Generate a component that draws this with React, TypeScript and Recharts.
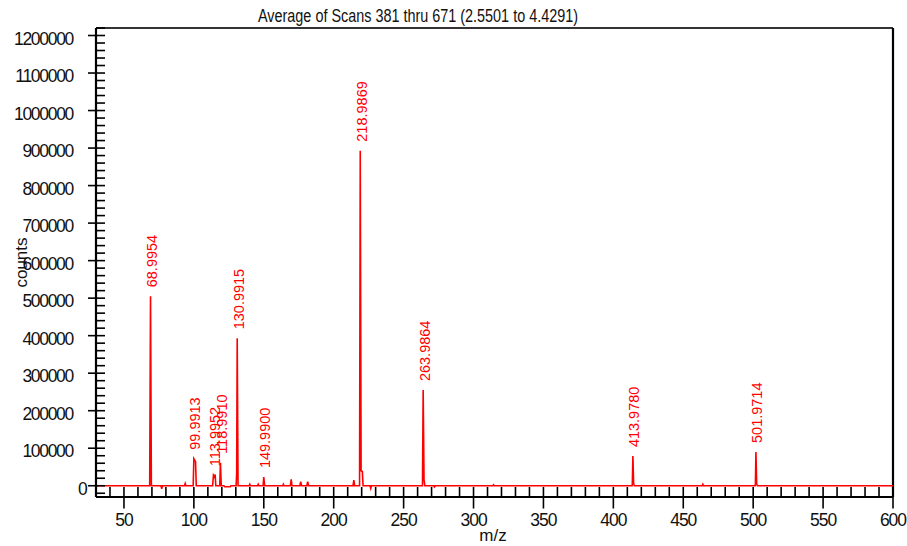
import React from "react";
import { LineChart, Line, XAxis, YAxis, ReferenceLine, LabelList } from "recharts";

// m/z positions of the profile points and their intensities (counts)
const mzPoints = [
  30, 68.4, 68.9954, 69.6, 76.5, 77, 77.5, 93.3, 93.8, 94.3,
  99.5, 99.9913, 100.6, 101.2, 101.7, 113.4, 113.9952, 114.6, 115.2, 115.7,
  118.5, 118.991, 119.6, 121.5, 122, 126, 126.5, 130.2, 130.6, 130.9915,
  131.6, 139.5, 140, 140.5, 145.5, 146, 146.5, 149.5, 149.99, 150.6,
  163.5, 164, 164.5, 169, 169.6, 170.2, 175.8, 176.4, 177, 180.8,
  181.4, 182, 213.8, 214.4, 215, 218.5, 218.9869, 219.6, 220.5, 221,
  226, 226.5, 227, 263.5, 263.9864, 264.6, 265.2, 271.5, 272, 272.5,
  313.8, 314.3, 314.8, 413.4, 413.6, 413.978, 414.5, 415, 463.5, 464,
  464.5, 501.4, 501.6, 501.9714, 502.5, 503, 600,
];

const countValues = [
  0, 0, 505000, 0, 0, -8000, 0, 0, 6000, 0,
  0, 72000, 68000, 64000, 0, 0, 28000, 24000, 30000, 0,
  0, 61000, 0, 0, -2500, -2500, 0, 0, 33000, 393000,
  0, 0, 4000, 0, 0, 4000, 0, 0, 23000, 0,
  0, 4000, 0, 0, 17000, 0, 0, 11000, 0, 0,
  11000, 0, 0, 15000, 0, 0, 893000, 40000, 38000, 0,
  0, -7000, 0, 0, 255000, 16000, 0, 0, -3000, 0,
  0, 2500, 0, 0, 8000, 79000, 6000, 0, 0, 4000,
  0, 0, 5000, 90000, 5000, 0, 0,
];

// annotated peak centroids
const peakLabels = [
  "68.9954", "99.9913", "113.9952", "118.9910", "130.9915", "149.9900",
  "218.9869", "263.9864", "413.9780", "501.9714",
];

// axis ticks
const xMajorTicks = [50, 100, 150, 200, 250, 300, 350, 400, 450, 500, 550, 600];
const yMajorTicks = [0, 100000, 200000, 300000, 400000, 500000, 600000, 700000, 800000, 900000, 1000000, 1100000, 1200000];

const stepTicks = (from: number, to: number, step: number) => {
  const out: number[] = [];
  for (let v = from; v <= to + 1e-9; v += step) out.push(Math.round(v));
  return out;
};
const xAllTicks = stepTicks(30, 600, 10);
const yAllTicks = stepTicks(-20000, 1220000, 20000);

const titleText = "Average of Scans 381 thru 671 (2.5501 to 4.4291)";

const rows = mzPoints.map((mz, i) => ({
  mz,
  counts: countValues[i],
  tag: peakLabels.find((p) => Number(p) === mz),
}));

const FONT = "'Liberation Sans', Arial, Helvetica, sans-serif";

function XTick(props: any) {
  const { x, y, payload } = props;
  const v = payload.value as number;
  const major = xMajorTicks.includes(v);
  return (
    <g>
      <line x1={x} x2={x} y1={y - 10} y2={major ? y + 11.5 : y} stroke="#000" strokeWidth={1.6} />
      {major && (
        <text
          x={x}
          y={y + 22.5}
          textAnchor="middle"
          dominantBaseline="central"
          fontFamily={FONT}
          fontSize={17.5}
          letterSpacing={-1}
          fill="#111"
        >
          {v}
        </text>
      )}
    </g>
  );
}

function YTick(props: any) {
  const { x, y, payload } = props;
  const v = payload.value as number;
  const major = yMajorTicks.includes(v);
  return (
    <g>
      <line x1={major ? x - 8 : x} x2={x + 9} y1={y} y2={y} stroke="#000" strokeWidth={1.6} />
      {major && (
        <text
          x={v === 0 ? x - 9.5 : x - 23}
          y={y + 3}
          textAnchor="end"
          dominantBaseline="central"
          fontFamily={FONT}
          fontSize={17.5}
          letterSpacing={-1.3}
          fill="#111"
        >
          {v}
        </text>
      )}
    </g>
  );
}

function PeakLabel(props: any) {
  const { x, y, value } = props;
  if (!value) return null;
  const lx = x + 6.5;
  const ly = y - 9;
  return (
    <text
      x={lx}
      y={ly}
      transform={`rotate(-90 ${lx} ${ly})`}
      fill="#ff0000"
      fontFamily={FONT}
      fontSize={14.5}
    >
      {value}
    </text>
  );
}

export default function App() {
  return (
    <div style={{ position: "absolute", left: 0, top: 0, width: 907, height: 546, background: "#fff" }}>
      <LineChart
        width={907}
        height={546}
        data={rows}
        margin={{ top: 28, right: 14, left: 0, bottom: 0 }}
      >
        <XAxis
          dataKey="mz"
          type="number"
          domain={[30, 600]}
          allowDataOverflow
          ticks={xAllTicks}
          interval={0}
          tickSize={0}
          tickMargin={0}
          tickLine={false}
          tick={<XTick />}
          axisLine={{ stroke: "#000", strokeWidth: 2.2 }}
          height={49}
        />
        <YAxis
          type="number"
          domain={[-30000, 1220000]}
          allowDataOverflow
          ticks={yAllTicks}
          interval={0}
          tickSize={0}
          tickMargin={0}
          tickLine={false}
          tick={<YTick />}
          axisLine={{ stroke: "#000", strokeWidth: 2.2 }}
          width={96}
        />
        <ReferenceLine y={1220000} stroke="#333" strokeWidth={2} />
        <ReferenceLine x={600} stroke="#000" strokeWidth={2.2} />
        <Line
          dataKey="counts"
          type="linear"
          stroke="#ff0000"
          strokeWidth={1.6}
          dot={false}
          isAnimationActive={false}
        >
          <LabelList dataKey="tag" content={<PeakLabel />} />
        </Line>
      </LineChart>
      <svg
        width={907}
        height={546}
        style={{ position: "absolute", left: 0, top: 0, pointerEvents: "none" }}
      >
        <text
          x={418}
          y={22}
          textAnchor="middle"
          fontFamily={FONT}
          fontSize={17.5}
          textLength={320}
          lengthAdjust="spacingAndGlyphs"
          fill="#111"
        >
          {titleText}
        </text>
        <text
          x={26.5}
          y={262.5}
          transform="rotate(-90 26.5 262.5)"
          textAnchor="middle"
          fontFamily={FONT}
          fontSize={17}
          fill="#111"
        >
          counts
        </text>
        <text x={493} y={541} textAnchor="middle" fontFamily={FONT} fontSize={17} fill="#111">
          m/z
        </text>
      </svg>
    </div>
  );
}
